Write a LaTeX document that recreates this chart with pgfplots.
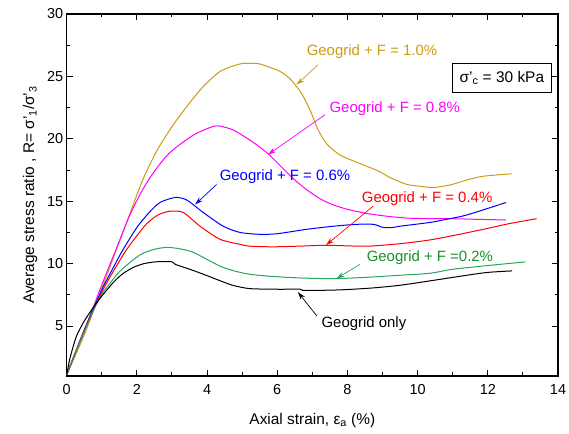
\documentclass[border=0pt]{standalone}
\usepackage{fontspec}
\setmainfont{Liberation Sans}
\usepackage{pgfplots}
\pgfplotsset{compat=1.18}
\usetikzlibrary{arrows.meta}
\definecolor{cgold}{RGB}{205,155,20}
\definecolor{cmag}{RGB}{255,0,255}
\definecolor{cgreen}{RGB}{40,165,90}
\definecolor{tgreen}{RGB}{20,145,40}
\begin{document}
\begin{tikzpicture}[
 annot/.style={font=\fontsize{15}{17}\selectfont, inner sep=0pt},
 arr/.style={-{Stealth[length=8bp,width=5bp]}, line width=0.7bp},
]
\begin{axis}[
 width=491.3bp, height=362bp, scale only axis,
 xmin=0,xmax=14,ymin=1,ymax=30,
 xtick={0,2,...,14}, ytick={5,10,...,30},
 minor x tick num=1, minor y tick num=1,
 tick align=inside, major tick length=6bp, minor tick length=3.5bp,
 axis line style={line width=1.3bp},
 every tick/.style={black, line width=1bp},
 tick label style={font=\fontsize{14.5}{16}\selectfont},
 xticklabel style={yshift=-5bp},
 /pgf/number format/assume math mode=true,
 xlabel={Axial strain, ε\textsubscript{a} (\%)},
 ylabel={Average stress ratio , R= σ'\textsubscript{1}/σ'\textsubscript{3}},
 label style={font=\fontsize{15.5}{17}\selectfont},
 xlabel style={yshift=-12bp},
 ylabel style={yshift=3bp},
 every axis plot/.append style={line width=1bp, smooth, tension=0.45},
]
% Geogrid + F = 1.0%
\addplot[cgold] coordinates {(0,1.1)(0.5,4.3)(1.0,8.0)(1.4,11.0)(1.8,14.0)(2.18,16.8)(2.6,19.2)(3.13,21.5)(3.8,23.9)(4.37,25.4)(4.94,26.0)(5.22,26.05)(5.5,26.0)(6.08,25.4)(6.4,24.7)(6.7,23.6)(6.95,22.2)(7.15,20.8)(7.41,19.6)(7.79,18.7)(8.2,18.2)(8.55,17.8)(8.9,17.4)(9.21,16.9)(9.69,16.35)(10.07,16.2)(10.44,16.1)(10.92,16.3)(11.4,16.7)(11.86,17.0)(12.68,17.2)};
% 0.8%
\addplot[cmag] coordinates {(0,1.1)(0.5,4.6)(1.0,8.3)(1.4,11.1)(1.8,13.9)(2.18,16.0)(2.5,17.4)(2.94,18.9)(3.61,20.3)(4.18,21.0)(4.4,21.0)(4.75,20.7)(5.22,19.9)(5.70,18.9)(6.1,17.8)(6.46,16.8)(6.85,15.9)(7.22,15.2)(7.6,14.7)(8.07,14.3)(8.6,14.0)(9.12,13.8)(9.7,13.65)(10.35,13.6)(11.0,13.6)(11.7,13.55)(12.52,13.5)};
% 0.6%
\addplot[blue] coordinates {(0,1.1)(0.5,4.7)(1.0,7.9)(1.33,9.7)(1.6,11.1)(2.0,12.9)(2.35,14.1)(2.66,14.9)(3.09,15.3)(3.42,15.1)(3.89,14.1)(4.46,13.0)(4.94,12.5)(5.5,12.35)(6.0,12.4)(6.84,12.75)(7.6,13.0)(8.26,13.15)(8.74,13.15)(9.02,12.9)(9.3,12.9)(9.5,13.0)(10.35,13.3)(10.73,13.5)(11.4,13.9)(12.52,14.9)};
% 0.4%
\addplot[red] coordinates {(0,1.1)(0.5,4.6)(1.0,7.7)(1.33,9.4)(1.7,11.1)(1.99,12.2)(2.28,13.2)(2.6,13.9)(2.94,14.2)(3.32,14.1)(3.80,13.0)(4.37,11.95)(4.94,11.55)(5.22,11.4)(5.88,11.35)(6.6,11.4)(7.41,11.47)(8.55,11.4)(9.5,11.6)(10.35,11.9)(11.1,12.3)(11.87,12.75)(12.6,13.2)(13.39,13.6)};
% 0.2%
\addplot[cgreen] coordinates {(0,1.1)(0.3,3.2)(0.57,5.0)(0.8,6.5)(1.04,7.7)(1.52,9.4)(2.09,10.7)(2.5,11.15)(2.85,11.3)(3.2,11.2)(3.61,10.9)(4.37,9.8)(4.8,9.4)(5.22,9.15)(5.89,8.97)(6.7,8.85)(7.6,8.8)(8.5,8.9)(9.5,9.07)(10.35,9.23)(11.0,9.55)(12.0,9.85)(13.07,10.14)};
% Geogrid only
\addplot[black] coordinates {(0,1.1)(0.1,2.5)(0.28,4.2)(0.5,5.4)(0.76,6.5)(1.0,7.4)(1.33,8.5)(1.6,9.2)(1.9,9.7)(2.2,10.0)(2.56,10.15)(3.0,10.15)(3.09,9.95)(3.61,9.45)(4.08,8.95)(4.4,8.6)(4.75,8.25)(5.22,8.0)(6.0,7.95)(6.65,7.95)(6.79,7.85)(7.79,7.9)(8.7,8.05)(9.5,8.27)(10.35,8.62)(11.4,9.07)(12.0,9.3)(12.69,9.42)};

\node[annot, text=cgold] at (axis cs:8.70,26.96) {Geogrid + F = 1.0\%};
\draw[arr, cgold] (axis cs:7.16,25.93) -- (axis cs:6.55,24.33);
\node[annot, text=cmag] at (axis cs:9.35,22.4) {Geogrid + F = 0.8\%};
\draw[arr, cmag] (axis cs:7.36,21.93) -- (axis cs:5.74,18.74);
\node[annot, text=blue] at (axis cs:6.22,16.98) {Geogrid + F = 0.6\%};
\draw[arr, blue] (axis cs:4.27,16.34) -- (axis cs:3.66,14.74);
\node[annot, text=red] at (axis cs:10.27,15.22) {Geogrid + F = 0.4\%};
\draw[arr, red] (axis cs:8.73,14.6) -- (axis cs:7.39,11.49);
\node[annot, text=tgreen] at (axis cs:10.35,10.51) {Geogrid + F =0.2\%};
\draw[arr, cgreen] (axis cs:8.36,9.95) -- (axis cs:7.69,8.81);
\node[annot, text=black] at (axis cs:8.47,5.16) {Geogrid only};
\draw[arr, black] (axis cs:7.13,5.8) -- (axis cs:6.59,7.72);
\node[draw, line width=0.8bp, font=\fontsize{15.5}{17}\selectfont, minimum width=99bp, minimum height=29bp, inner sep=2bp] at (axis cs:12.40,24.88) {σ'\textsubscript{c} = 30 kPa};
\end{axis}
\pgfresetboundingbox
\path (current axis.south west) ++(-66.7bp,-58bp) rectangle ([shift={(11bp,14bp)}]current axis.north east);
\end{tikzpicture}
\end{document}
